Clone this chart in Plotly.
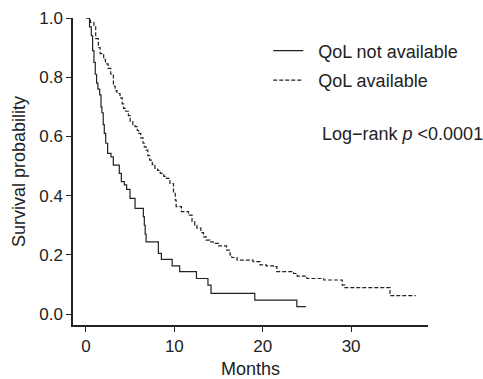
import plotly.graph_objects as go

# QoL not available (solid): step times (months) and survival after each step
t_na = [0, 0.4, 0.6, 0.75, 0.9, 1.05, 1.2, 1.35, 1.55, 1.7, 1.8, 1.95, 2.07, 2.23, 2.45,
        2.83, 3.09, 3.77, 4.0, 4.34, 4.6, 4.98, 5.55, 6.49, 6.6, 6.7, 6.8, 8.19, 8.53,
        9.75, 10.6, 12.5, 13.8, 14.15, 19.1, 23.86, 24.9]
s_na = [1.0, 0.97, 0.94, 0.89, 0.85, 0.81, 0.78, 0.76, 0.74, 0.70, 0.68, 0.64, 0.61, 0.577, 0.543,
        0.531, 0.503, 0.475, 0.447, 0.436, 0.421, 0.391, 0.357, 0.329, 0.30, 0.27, 0.244, 0.205, 0.185,
        0.163, 0.143, 0.12, 0.098, 0.07, 0.047, 0.025, 0.025]

# QoL available (dashed)
t_av = [0, 0.5, 0.9, 1.1, 1.4, 1.6, 2.0, 2.2, 2.5, 2.8, 3.1, 3.3, 3.5, 3.85, 4.1, 4.25, 4.5,
        4.8, 5.0, 5.3, 5.55, 5.8, 5.95, 6.2, 6.45, 6.6, 6.8, 7.0, 7.2, 7.5, 7.8, 8.1, 8.4,
        8.8, 9.1, 9.5, 9.9, 10.1, 10.2, 10.8, 11.6, 12.0, 12.3, 12.55, 13.0, 13.3, 13.6,
        14.0, 14.4, 15.0, 15.9, 16.3, 16.5, 17.1, 18.9, 19.7, 20.4, 21.2, 21.6, 23.5, 23.9,
        25.0, 26.9, 29.0, 29.3, 34.4, 37.3]
s_av = [1.0, 0.985, 0.97, 0.93, 0.90, 0.88, 0.86, 0.845, 0.83, 0.81, 0.77, 0.755, 0.745, 0.73,
        0.71, 0.695, 0.685, 0.67, 0.65, 0.64, 0.633, 0.62, 0.61, 0.595, 0.577, 0.565, 0.554,
        0.535, 0.52, 0.505, 0.492, 0.485, 0.475, 0.465, 0.458, 0.441, 0.41, 0.385, 0.363,
        0.346, 0.334, 0.312, 0.30, 0.29, 0.275, 0.261, 0.25, 0.244, 0.239, 0.23, 0.216, 0.20,
        0.191, 0.182, 0.177, 0.166, 0.163, 0.16, 0.143, 0.137, 0.128, 0.12, 0.115, 0.098,
        0.089, 0.062, 0.062]

x_ticks = [0, 10, 20, 30]
y_ticks = [0.0, 0.2, 0.4, 0.6, 0.8, 1.0]

FONT = "Liberation Sans, Arial, sans-serif"
INK = "#222222"

fig = go.Figure()
fig.add_trace(go.Scatter(x=t_na, y=s_na, mode="lines", line_shape="hv",
                         name="&nbsp;&nbsp;QoL not available", cliponaxis=False,
                         legendgroup="a",
                         line=dict(color=INK, width=1.2)))
fig.add_trace(go.Scatter(x=t_av, y=s_av, mode="lines", line_shape="hv",
                         name="&nbsp;&nbsp;QoL available", cliponaxis=False,
                         legendgroup="b",
                         line=dict(color=INK, width=1.2, dash="4px,2px")))

fig.add_annotation(text="Log\u2212rank <i>p</i> &lt;0.0001", xref="paper", yref="paper",
                   x=0.695, y=0.622, xanchor="left", yanchor="middle", showarrow=False,
                   font=dict(family=FONT, size=18, color=INK))

fig.update_layout(
    width=483, height=379,
    margin=dict(l=73, r=55, t=18, b=54),
    paper_bgcolor="white", plot_bgcolor="white",
    font=dict(family=FONT, size=16, color=INK),
    showlegend=True,
    legend=dict(x=0.55, y=0.953, xanchor="left", yanchor="top",
                bgcolor="rgba(0,0,0,0)", font=dict(family=FONT, size=18, color=INK),
                tracegroupgap=3),
    xaxis=dict(range=[-1.47, 38.7], tickvals=x_ticks, showgrid=False, zeroline=False,
               showline=True, linecolor=INK, linewidth=1.5, automargin=False,
               ticks="outside", ticklen=5, tickcolor=INK, tickfont=dict(size=17),
               title=dict(text="Months", standoff=12, font=dict(size=18))),
    yaxis=dict(range=[-0.037, 1.0], tickvals=y_ticks, tickformat=".1f", showgrid=False,
               zeroline=False, showline=True, linecolor=INK, linewidth=1.5, automargin=False,
               ticks="outside", ticklen=5, tickcolor=INK, tickfont=dict(size=17),
               title=dict(text="Survival probability", standoff=9, font=dict(size=18))),
)

fig.write_html("out.html")
